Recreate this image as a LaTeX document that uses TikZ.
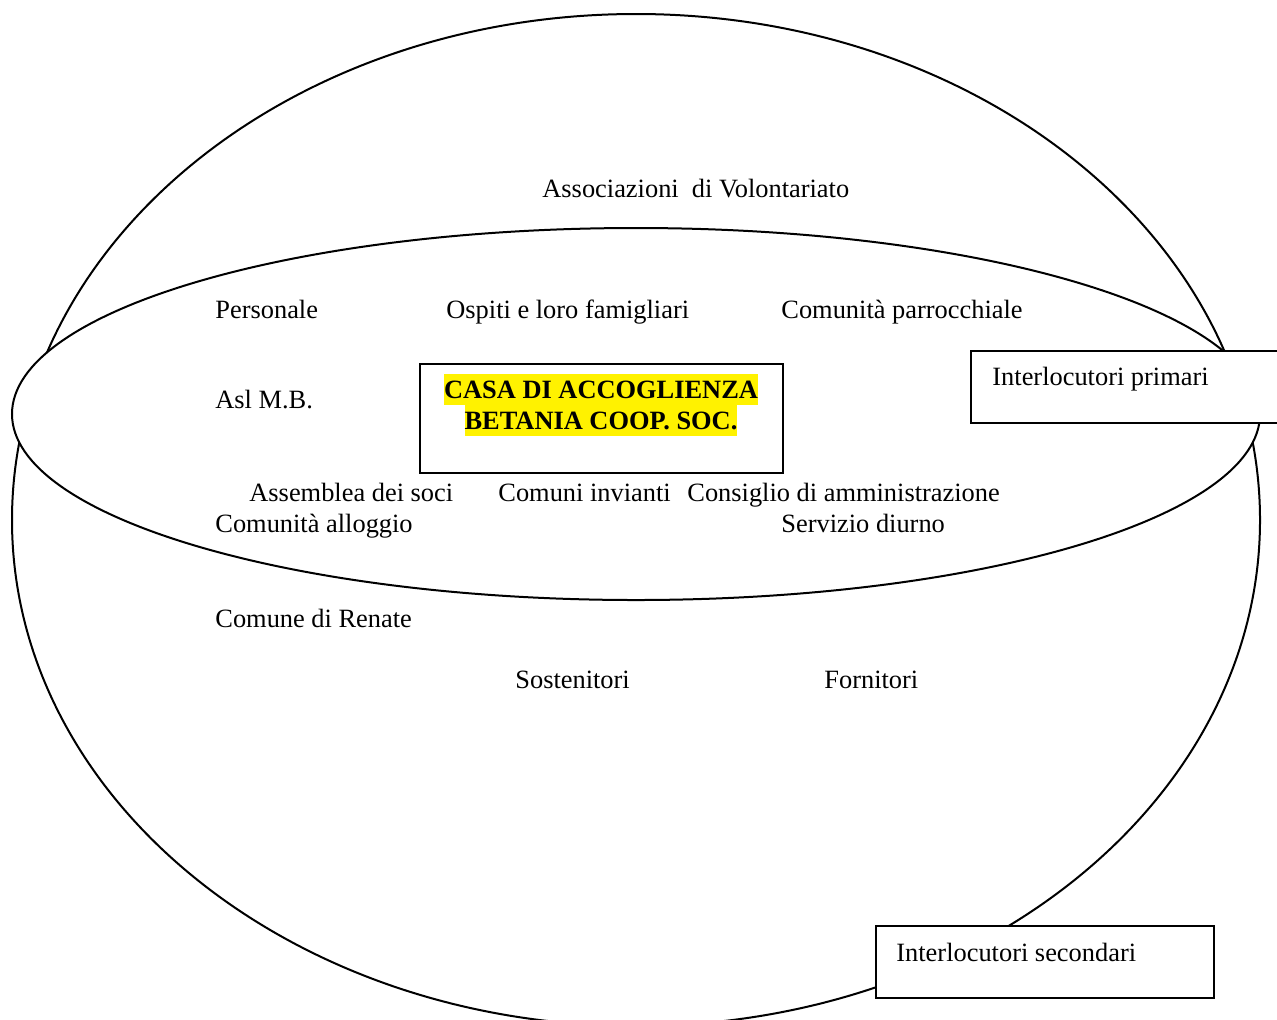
\documentclass[tikz,border=0pt]{standalone}
\usepackage{fontspec}
\setmainfont{Liberation Serif}
\usepackage{tikz}

\tikzset{
	lbl/.style={anchor=base west, inner sep=0pt, font=\fontsize{13.2}{16}\selectfont},
	casaline/.style={anchor=base, fill=yellow, inner xsep=0pt, inner ysep=0pt, text height=12pt, text depth=3.5pt, font=\fontsize{13.2}{16}\selectfont\bfseries},
	frame/.style={line width=1.1pt, fill=white}
}

\begin{document}
\begin{tikzpicture}[x=0.5pt, y=-0.5pt]
		%%%%% START %%%%%
		
		\useasboundingbox (0, 0) rectangle (1277, 1019);
		\clip (0, 0) rectangle (1277, 1019);
		
		% interlocutori secondari
		\draw[line width=1pt] (636, 520) ellipse [x radius=312pt, y radius=253pt];
		
		% interlocutori primari
		\draw[line width=1pt, fill=white] (636, 414) ellipse [x radius=312pt, y radius=93pt];
		
		\draw[frame] (420, 364) rectangle (783, 473);
		\node[casaline] (casa) at (601, 398) {CASA DI ACCOGLIENZA};
		\node[casaline] (betania) at (601, 429) {BETANIA COOP. SOC.};
		
		\draw[frame] (971, 351) rectangle (1290, 423);
		\node[lbl] (primari) at (992, 385) {Interlocutori primari};
		
		\draw[frame] (876, 926) rectangle (1214, 998);
		\node[lbl] (secondari) at (896, 961) {Interlocutori secondari};
		
		\node[lbl] (volontariato) at (542, 197) {Associazioni \ di Volontariato};
		
		\node[lbl] (personale) at (215, 318) {Personale};
		\node[lbl] (ospiti) at (446, 318) {Ospiti e loro famigliari};
		\node[lbl] (parrocchia) at (781, 318) {Comunità parrocchiale};
		
		\node[lbl] (asl) at (215, 408) {Asl M.B.};
		
		\node[lbl] (assemblea) at (249, 501) {Assemblea dei soci};
		\node[lbl] (invianti) at (498, 501) {Comuni invianti};
		\node[lbl] (consiglio) at (687, 501) {Consiglio di amministrazione};
		\node[lbl] (alloggio) at (215, 532) {Comunità alloggio};
		\node[lbl] (diurno) at (781, 532) {Servizio diurno};
		
		\node[lbl] (renate) at (215, 627) {Comune di Renate};
		\node[lbl] (sostenitori) at (515, 688) {Sostenitori};
		\node[lbl] (fornitori) at (824, 688) {Fornitori};
		
		%%%%% END %%%%%
	\end{tikzpicture}
\end{document}
